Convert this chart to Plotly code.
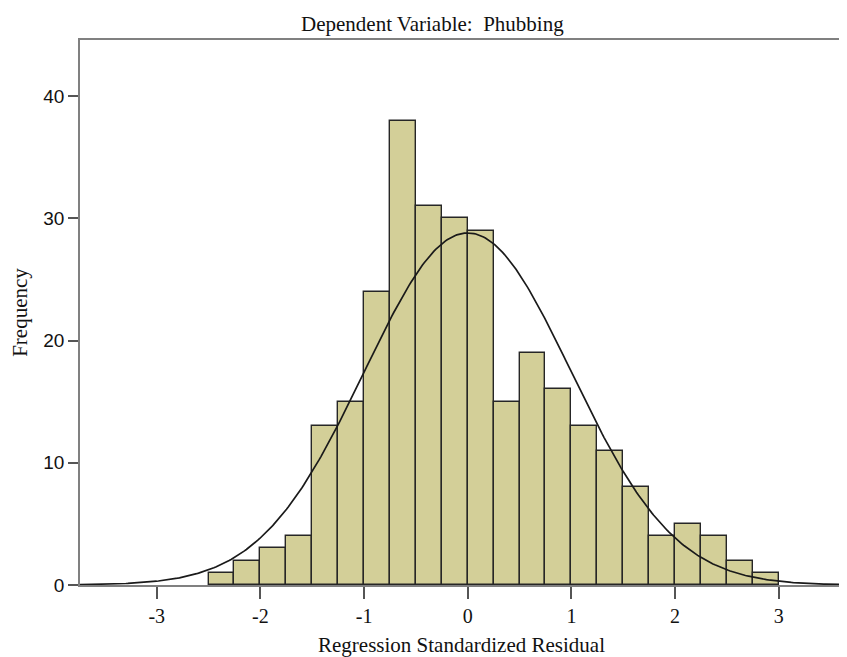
import numpy as np
import plotly.graph_objects as go

# Data
bin_start = -2.5
bin_width = 0.25
counts = [1, 2, 3, 4, 13, 15, 24, 38, 31, 30, 29, 15, 19, 16, 13, 11, 8, 4, 5, 4, 2, 1]
mean_resid = 0.0
sd_resid = 0.997
n_obs = 288
x_ticks = [-3, -2, -1, 0, 1, 2, 3]
y_ticks = [0, 10, 20, 30, 40]

edges = bin_start + bin_width * np.arange(len(counts) + 1)
centers = (edges[:-1] + edges[1:]) / 2

xr = [-3.74, 3.62]
xc = np.linspace(xr[0], xr[1], 400)
yc = n_obs * bin_width / (sd_resid * np.sqrt(2 * np.pi)) * np.exp(-0.5 * ((xc - mean_resid) / sd_resid) ** 2)

SERIF = "Liberation Serif, Times New Roman, serif"
SANS = "Liberation Sans, Arial, sans-serif"

W, H = 839, 649  # page body has an 8px margin
L, R, T, B = 72, 4, 32, 72

fig = go.Figure()
fig.add_trace(go.Bar(
    x=centers, y=counts, width=bin_width,
    marker=dict(color="#d3cf98", line=dict(color="#262626", width=1.4)),
    showlegend=False, hoverinfo="x+y",
))
fig.add_trace(go.Scatter(
    x=xc, y=yc, mode="lines",
    line=dict(color="#1a1a1a", width=1.7),
    showlegend=False, hoverinfo="skip",
))

fig.update_layout(
    width=W, height=H,
    margin=dict(l=L, r=R, t=T, b=B),
    paper_bgcolor="white", plot_bgcolor="white",
    font=dict(family=SERIF, size=21, color="#111"),
    bargap=0,
    annotations=[dict(
        text="Dependent Variable:  Phubbing", xref="paper", yref="paper",
        x=(424 - L) / (W - L - R), y=1, yanchor="middle", yshift=16,
        showarrow=False, font=dict(family=SERIF, size=21, color="#111"),
    )],
)
fig.update_xaxes(
    range=xr, tickvals=x_ticks, ticktext=[str(v) for v in x_ticks],
    tickfont=dict(family=SERIF, size=20),
    showgrid=False, zeroline=False,
    showline=True, linecolor="#808080", linewidth=1.5, mirror=True,
    ticks="outside", ticklen=12, tickwidth=2, tickcolor="#555",
    title=dict(text="Regression Standardized Residual", standoff=12,
               font=dict(family=SERIF, size=21)),
)
fig.update_yaxes(
    range=[0, 44.6], tickvals=y_ticks,
    tickfont=dict(family=SANS, size=19),
    showgrid=False, zeroline=False,
    showline=True, linecolor="#808080", linewidth=1.5,
    ticks="outside", ticklen=10, tickwidth=2, tickcolor="#555",
    title=dict(text="Frequency", standoff=10, font=dict(family=SERIF, size=21)),
)

fig.write_html("out.html")
